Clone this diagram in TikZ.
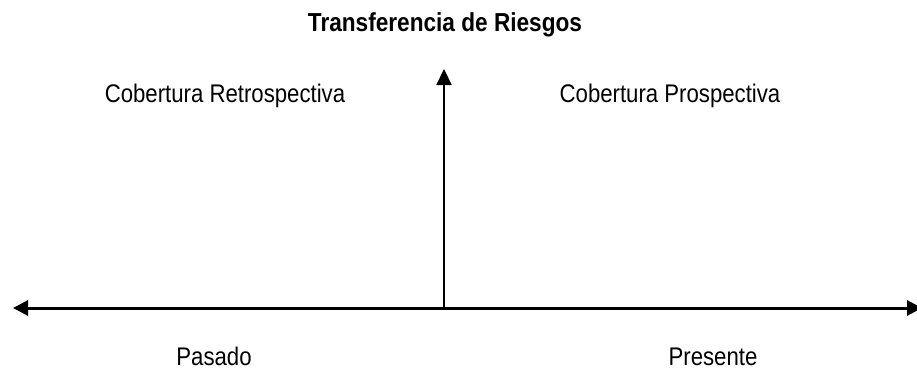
\documentclass[tikz,border=0pt]{standalone}
\usepackage{fontspec}
\setmainfont[FakeStretch=0.87]{Liberation Sans}
\usetikzlibrary{arrows.meta}
\begin{document}
\begin{tikzpicture}[x=1pt,y=-1pt,
  lbl/.style={inner sep=0pt,anchor=base,font=\fontsize{25.5}{30}\selectfont},
  ttl/.style={inner sep=0pt,anchor=base,font=\bfseries\fontsize{26}{30}\selectfont},
  axis/.style={line width=3pt,{Triangle[length=15pt,width=15pt]}-{Triangle[length=15pt,width=15pt]}},
  up/.style={line width=2.2pt,-{Triangle[length=16pt,width=15pt]}}]
\useasboundingbox (0,0) rectangle (917,369);
\node[ttl] (title) at (445,32) {Transferencia de Riesgos};
\node[lbl] (retro) at (225,102) {Cobertura Retrospectiva};
\node[lbl] (pros) at (670,102) {Cobertura Prospectiva};
\node[lbl] (pasado) at (214,365) {Pasado};
\node[lbl] (presente) at (713,365) {Presente};
\coordinate (left) at (13,308);
\coordinate (right) at (922,308);
\coordinate (base) at (444,308);
\coordinate (top) at (444,69);
\draw[axis] (left) -- (right);
\draw[up] (base) -- (top);
\end{tikzpicture}
\end{document}
